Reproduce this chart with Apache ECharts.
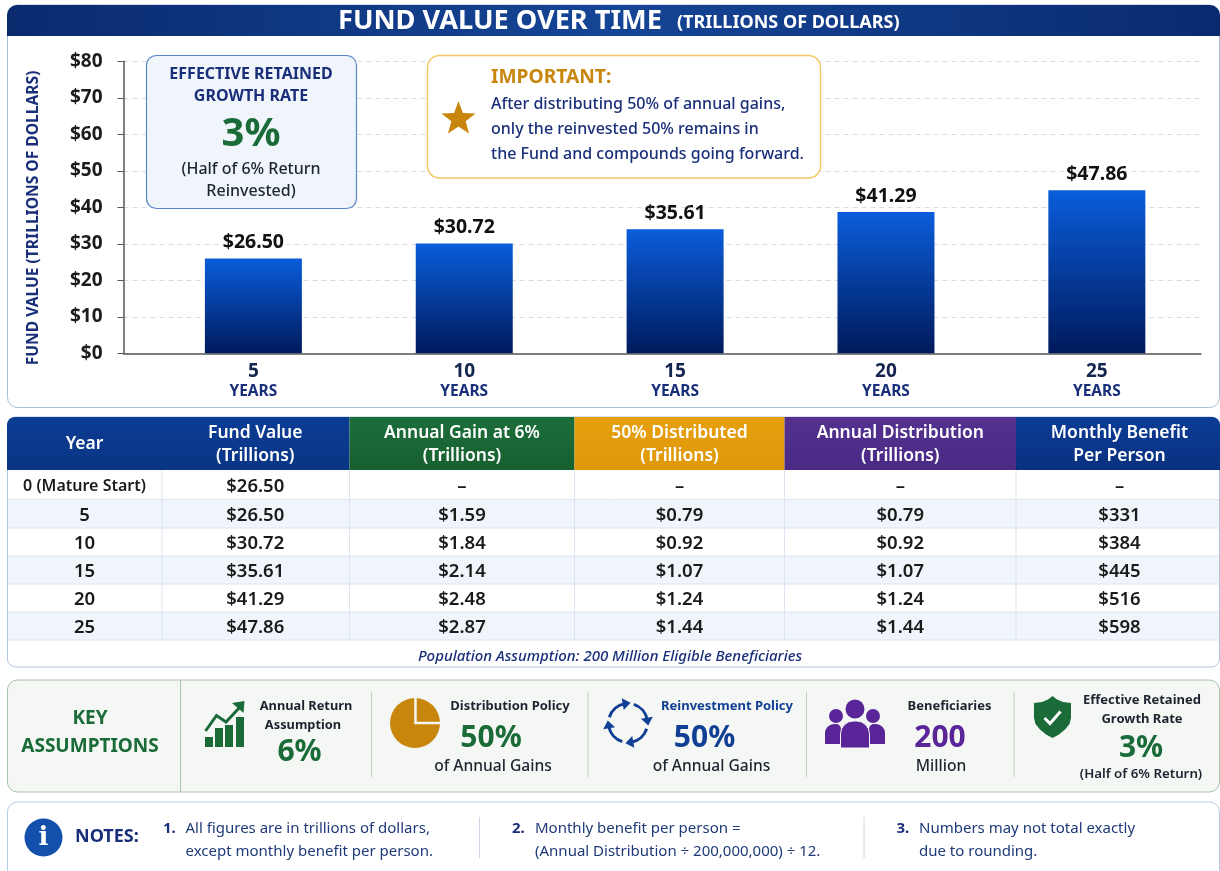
<!DOCTYPE html>
<html>
<head>
<meta charset="utf-8">
<title>Fund Value Over Time</title>
<script src="https://cdn.jsdelivr.net/npm/echarts@6/dist/echarts.min.js"></script>
<style>
  html, body { margin: 0; padding: 0; background: #fff; }
  #chart { width: 1220px; height: 871px; }
</style>
</head>
<body>
<div id="chart"></div>
<script>
// bar data. the bars in the picture are drawn shorter than their printed labels, so both are kept
const barYears = [5, 10, 15, 20, 25];
const barHeights = [26, 30.1, 34, 38.7, 44.7];
const barLabels = ['$26.50', '$30.72', '$35.61', '$41.29', '$47.86'];

// table data
const tableYears = ['0 (Mature Start)', '5', '10', '15', '20', '25'];
const fundValues = ['$26.50', '$26.50', '$30.72', '$35.61', '$41.29', '$47.86'];
const annualGains = ['–', '$1.59', '$1.84', '$2.14', '$2.48', '$2.87'];
const distributed = ['–', '$0.79', '$0.92', '$1.07', '$1.24', '$1.44'];
const annualDistributions = ['–', '$0.79', '$0.92', '$1.07', '$1.24', '$1.44'];
const monthlyBenefits = ['–', '$331', '$384', '$445', '$516', '$598'];
const tableColumns = [tableYears, fundValues, annualGains, distributed, annualDistributions, monthlyBenefits];
const tableHeaders = [
  ['Year'],
  ['Fund Value', '(Trillions)'],
  ['Annual Gain at 6%', '(Trillions)'],
  ['50% Distributed', '(Trillions)'],
  ['Annual Distribution', '(Trillions)'],
  ['Monthly Benefit', 'Per Person']
];

const FONT = '"Noto Sans", sans-serif';
const NAVY = '#1a2f7a';
const GREEN = '#1a6b38';
const GOLD = '#c8860d';
const PURPLE = '#5a2599';
const BLUE = '#123f96';
const INK = '#1c2430';

const els = [];

function text(str, x, y, size, weight, fill, align, extra) {
  els.push(Object.assign({
    type: 'text',
    x: x,
    y: y + 2,
    z: 20,
    style: {
      text: str,
      font: weight + ' ' + size + 'px ' + FONT,
      fill: fill,
      align: align || 'center',
      verticalAlign: 'middle'
    }
  }, extra || {}));
}

function box(x, y, w, h, r, fill, stroke, z, lineWidth) {
  els.push({
    type: 'rect',
    z: z == null ? -1 : z,
    shape: { x: x, y: y, width: w, height: h, r: r },
    style: { fill: fill, stroke: stroke || null, lineWidth: lineWidth || 1 }
  });
}

function line(x1, y1, x2, y2, color, z, lineWidth) {
  els.push({
    type: 'line',
    z: z == null ? 5 : z,
    shape: { x1: x1, y1: y1, x2: x2, y2: y2 },
    style: { stroke: color, lineWidth: lineWidth || 1 }
  });
}

function circle(cx, cy, r, fill) {
  els.push({ type: 'circle', z: 20, shape: { cx: cx, cy: cy, r: r }, style: { fill: fill } });
}

function polygon(points, fill) {
  els.push({ type: 'polygon', z: 21, shape: { points: points }, style: { fill: fill } });
}

function polyline(points, color, lineWidth) {
  els.push({
    type: 'polyline',
    z: 21,
    shape: { points: points },
    style: { stroke: color, lineWidth: lineWidth, fill: null, lineJoin: 'miter' }
  });
}

function vGrad(stops) {
  return new echarts.graphic.LinearGradient(0, 0, 0, 1, stops);
}
function hGrad(stops) {
  return new echarts.graphic.LinearGradient(0, 0, 1, 0, stops);
}

// chart panel and title band
box(7.5, 5, 1212, 402.5, 10, '#fff', '#a9bdd8');
box(7, 5, 1213, 31, [10, 10, 0, 0], hGrad([
  { offset: 0, color: '#0a2a6e' },
  { offset: 0.5, color: '#154596' },
  { offset: 1, color: '#0a2a6e' }
]), null, 1);
text('FUND VALUE OVER TIME', 338, 19.5, 27.2, 700, '#fff', 'left');
text('(TRILLIONS OF DOLLARS)', 677, 21, 18, 700, '#fff', 'left');
text('FUND VALUE (TRILLIONS OF DOLLARS)', 34, 216, 15.6, 700, NAVY, 'center', { rotation: Math.PI / 2 });

// growth rate callout
box(146.5, 55.5, 210, 153, 10, '#f0f5fb', '#5b86c9', 10, 1.2);
text('EFFECTIVE RETAINED', 251, 72.5, 16, 700, NAVY);
text('GROWTH RATE', 251, 94.5, 16, 700, NAVY);
text('3%', 251, 133, 40, 700, GREEN);
text('(Half of 6% Return', 251, 167, 16, 500, INK);
text('Reinvested)', 251, 189, 16, 500, INK);

// important callout
box(427.5, 55.5, 393, 122.5, 12, '#fff', '#f3c766', 10, 1.4);
const starPts = [];
for (let i = 0; i < 10; i++) {
  const rad = i % 2 ? 7.5 : 18;
  const ang = -Math.PI / 2 + i * Math.PI / 5;
  starPts.push([458.5 + rad * Math.cos(ang), 119 + rad * Math.sin(ang)]);
}
polygon(starPts, GOLD);
text('IMPORTANT:', 491, 76, 19.2, 700, GOLD, 'left');
text('After distributing 50% of annual gains,', 491, 102, 16, 500, NAVY, 'left');
text('only the reinvested 50% remains in', 491, 127, 16, 500, NAVY, 'left');
text('the Fund and compounds going forward.', 491, 152.5, 16, 500, NAVY, 'left');

// table
const colX = [7, 162, 349.5, 574.5, 784.5, 1016, 1220];
const rowY = [470, 499.5, 528, 556, 584, 612, 640];
const headerFills = [
  ['#0b3c94', '#0a3585'],
  ['#0b3c94', '#0a3585'],
  ['#1b6e3a', '#17602f'],
  ['#e6a00e', '#df9809'],
  ['#54318f', '#4a2a85'],
  ['#0b3c94', '#0a3080']
];
box(7.5, 417, 1212, 250, 8, '#fff', '#b3c5de');
rowY.slice(0, -1).forEach((y, i) => {
  if (i % 2 === 1) {
    els.push({
      type: 'rect',
      z: 0,
      shape: { x: 8, y: y, width: 1211, height: rowY[i + 1] - y },
      style: { fill: '#f0f5fb' }
    });
  }
  if (i > 0) line(8, y, 1219, y, '#dbe4f0');
});
line(8, 640, 1219, 640, '#dbe4f0');
tableHeaders.forEach((lines, c) => {
  const x = colX[c];
  const w = colX[c + 1] - x;
  const r = c === 0 ? [8, 0, 0, 0] : c === 5 ? [0, 8, 0, 0] : 0;
  box(x, 417, w, 53, r, vGrad([
    { offset: 0, color: headerFills[c][0] },
    { offset: 1, color: headerFills[c][1] }
  ]), null, 1);
  const cx = x + w / 2 + (c === 5 ? 1.5 : 0) - (c === 1 ? 0.5 : 0);
  if (lines.length === 1) {
    text(lines[0], cx, 442, 17.5, 600, '#fff');
  } else {
    text(lines[0], cx, 431, 17.5, 600, '#fff');
    text(lines[1], cx, 454, 17.5, 600, '#fff');
  }
  if (c > 0) line(x, 470, x, 640, '#dbe4f0');
  tableColumns[c].forEach((val, r2) => {
    const size = val.length > 8 ? 16 : 18.5;
    text(val, cx, (rowY[r2] + rowY[r2 + 1]) / 2, size, 600, '#1a1a1a');
  });
});
text('Population Assumption: 200 Million Eligible Beneficiaries', 610, 654.5, 15, 500, NAVY, 'center', {
  style: {
    text: 'Population Assumption: 200 Million Eligible Beneficiaries',
    font: 'italic 500 15px ' + FONT,
    fill: NAVY,
    align: 'center',
    verticalAlign: 'middle'
  }
});

// key assumptions
box(7.5, 680, 1212, 112, 10, '#f4f7f4', '#a8c4aa');
line(180.5, 680, 180.5, 792, '#a8c4aa');
[371.5, 588, 806.5, 1014].forEach(x => line(x, 692, x, 777, '#c3cfc5'));
text('KEY', 90, 717, 19, 700, GREEN);
text('ASSUMPTIONS', 90, 745, 19, 700, GREEN);

// rising bars icon
[[205, 737], [215, 728], [225, 725], [236, 717]].forEach(b => {
  els.push({ type: 'rect', z: 20, shape: { x: b[0], y: b[1], width: 8, height: 747 - b[1] }, style: { fill: GREEN } });
});
polyline([[205.5, 731], [216.5, 715.5], [226, 722], [240, 707]], GREEN, 3);
polygon([[232, 703], [244.5, 701], [243.5, 713]], GREEN);
text('Annual Return', 306, 704, 12.8, 700, INK);
text('Assumption', 303, 723, 12.8, 700, INK);
text('6%', 299.5, 750, 30, 700, GREEN);

// pie icon
circle(415, 723, 25, GOLD);
polyline([[415.5, 698], [415.5, 723], [440, 723]], '#f4f7f4', 2.5);
text('Distribution Policy', 510, 704.5, 13, 700, INK);
text('50%', 491, 736, 30, 700, GREEN);
text('of Annual Gains', 493, 765, 15.6, 500, INK);

// reinvestment arrows icon
for (let i = 0; i < 4; i++) {
  const a0 = -Math.PI / 2 + i * Math.PI / 2 + 0.3;
  const a1 = a0 + 1.1;
  els.push({
    type: 'arc',
    z: 20,
    shape: { cx: 628, cy: 723, r: 19.5, startAngle: a0, endAngle: a1, clockwise: true },
    style: { stroke: BLUE, lineWidth: 3, fill: null }
  });
  const tx = 628 + 19.5 * Math.cos(a1);
  const ty = 723 + 19.5 * Math.sin(a1);
  const dx = -Math.sin(a1);
  const dy = Math.cos(a1);
  polygon([
    [tx + dx * 6, ty + dy * 6],
    [tx - dx * 2 + dy * 6, ty - dy * 2 - dx * 6],
    [tx - dx * 2 - dy * 6, ty - dy * 2 + dx * 6]
  ], BLUE);
}
text('Reinvestment Policy', 727, 704.5, 13, 700, BLUE);
text('50%', 704.5, 736, 30, 700, BLUE);
text('of Annual Gains', 711.5, 765, 15.6, 500, INK);

// people icon
circle(855, 709, 9.5, PURPLE);
circle(836, 716, 7, PURPLE);
circle(873, 716, 7, PURPLE);
box(825, 724, 16, 20, [9, 5, 0, 0], PURPLE, null, 20);
box(869, 724, 16, 20, [5, 9, 0, 0], PURPLE, null, 20);
box(840.5, 721, 29, 27, [13, 13, 0, 0], PURPLE, '#f4f7f4', 21);
text('Beneficiaries', 949.5, 704.5, 13, 700, INK);
text('200', 940, 736, 30, 700, PURPLE);
text('Million', 941, 765, 15.6, 500, INK);

// shield icon
polygon([
  [1052.5, 696], [1057, 699.5], [1063, 702], [1071, 703], [1071, 718], [1069.5, 724],
  [1065, 729.5], [1059, 734.5], [1052.5, 738], [1046, 734.5], [1040, 729.5], [1035.5, 724],
  [1034, 718], [1034, 703], [1042, 702], [1048, 699.5]
], GREEN);
polyline([[1044.5, 718], [1050, 723.5], [1060.5, 711.5]], '#fff', 3);
els[els.length - 1].z = 22;
text('Effective Retained', 1142, 698.5, 13, 700, INK);
text('Growth Rate', 1142, 717.5, 13, 700, INK);
text('3%', 1141, 746, 30, 700, GREEN);
text('(Half of 6% Return)', 1141, 772.5, 13.3, 600, INK);

// notes
box(7.5, 802, 1212, 80, 10, '#fff', '#b6cbe6');
circle(43.5, 837.5, 19, '#1250ac');
els.push({
  type: 'text',
  x: 43.5,
  y: 838,
  z: 21,
  style: {
    text: 'i',
    font: '700 26px "DejaVu Serif", serif',
    fill: '#fff',
    align: 'center',
    verticalAlign: 'middle'
  }
});
text('NOTES:', 75, 835, 18, 700, NAVY, 'left');
const NOTE = '#1f3a78';
text('1.', 163, 827, 15, 700, NAVY, 'left');
text('All figures are in trillions of dollars,', 185.5, 827, 15, 400, NOTE, 'left');
text('except monthly benefit per person.', 185.5, 850, 15, 400, NOTE, 'left');
line(479.5, 817, 479.5, 858, '#ccd6e4');
text('2.', 512, 827, 15, 700, NAVY, 'left');
text('Monthly benefit per person =', 535, 827, 15, 400, NOTE, 'left');
text('(Annual Distribution ÷ 200,000,000) ÷ 12.', 535, 850, 15, 400, NOTE, 'left');
line(864, 817, 864, 858, '#ccd6e4');
text('3.', 896.5, 827, 15, 700, NAVY, 'left');
text('Numbers may not total exactly', 919, 827, 15, 400, NOTE, 'left');
text('due to rounding.', 919, 850, 15, 400, NOTE, 'left');

const chart = echarts.init(document.getElementById('chart'));
chart.setOption({
  animation: false,
  textStyle: { fontFamily: FONT },
  graphic: { elements: els },
  grid: { left: 123.5, right: 19, top: 61.3, bottom: 517.7 },
  xAxis: {
    type: 'value',
    min: 1.92,
    max: 27.47,
    splitLine: { show: false },
    axisLine: { show: true, onZero: false, lineStyle: { color: '#555', width: 1.5 } },
    axisTick: { show: false },
    axisLabel: {
      customValues: barYears,
      margin: 8,
      formatter: v => '{n|' + v + '}\n{y|YEARS}',
      rich: {
        n: { fontSize: 19, fontWeight: 700, color: '#14264f', lineHeight: 20, fontFamily: FONT },
        y: { fontSize: 15.5, fontWeight: 700, color: NAVY, lineHeight: 21, fontFamily: FONT }
      }
    }
  },
  yAxis: {
    type: 'value',
    min: 0,
    max: 80,
    interval: 10,
    splitLine: { show: true, lineStyle: { color: '#d8dce2', type: [5, 4], width: 1 } },
    axisLine: { show: true, lineStyle: { color: '#555', width: 1.5 } },
    axisTick: { show: true, length: 6, lineStyle: { color: '#555' } },
    axisLabel: {
      margin: 21,
      fontSize: 19,
      fontWeight: 700,
      color: '#1c1c1c',
      formatter: v => '$' + v
    }
  },
  series: [{
    type: 'bar',
    barWidth: 97,
    data: barYears.map((y, i) => [y, barHeights[i]]),
    itemStyle: {
      color: vGrad([
        { offset: 0, color: '#0a5ddb' },
        { offset: 1, color: '#001a5c' }
      ])
    },
    label: {
      show: true,
      position: 'top',
      distance: 6,
      fontSize: 19.5,
      fontWeight: 700,
      color: '#111',
      formatter: p => barLabels[p.dataIndex]
    }
  }]
});
</script>
</body>
</html>
